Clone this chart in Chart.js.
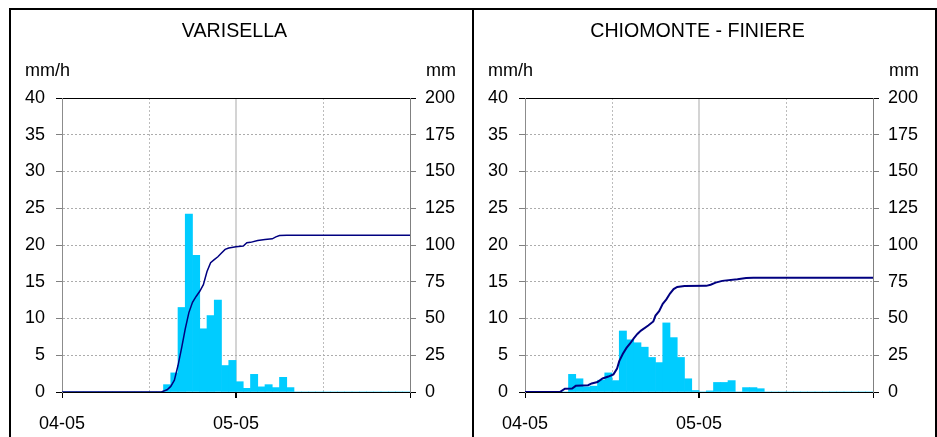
<!DOCTYPE html>
<html>
<head>
<meta charset="utf-8">
<script src="https://cdn.jsdelivr.net/npm/chart.js@4.4.1/dist/chart.umd.min.js"></script>
<style>
    body { margin: 0; background: #fff; }
    #frame {
        position: absolute; left: 9px; top: 8px;
        width: 924px; height: 440px;
        border: 2px solid #000; border-bottom: none;
    }
    .panel { position: absolute; top: 0; width: 461px; height: 427px; }
    #left-panel { left: 0; }
    #right-panel { left: 461px; border-left: 2px solid #000; }
    canvas { display: block; }
</style>
</head>
<body>
<div id="frame">
    <div class="panel" id="left-panel"><canvas id="varisella" width="461" height="427"></canvas></div>
    <div class="panel" id="right-panel"><canvas id="chiomonte" width="461" height="427"></canvas></div>
</div>
<script>
// hourly rain (mm/h), hour 0 = 04-05 00:00, 48 hours
const varisellaRain = [0, 0, 0, 0, 0, 0, 0, 0, 0, 0, 0, 0, 0, 0,
    1.0, 2.6, 11.5, 24.2, 18.6, 8.6, 10.4, 12.5, 3.6, 4.3,
    1.4, 0.5, 2.4, 0.7, 1.0, 0.6, 2.0, 0.6,
    0, 0, 0, 0, 0, 0, 0, 0, 0, 0, 0, 0, 0, 0, 0, 0];
const chiomonteRain = [0, 0, 0, 0, 0, 0,
    2.4, 1.8, 0.7, 0.8, 1.6, 2.6, 1.55, 8.3, 7.1, 6.7, 6.1, 4.7, 4.0, 9.4, 7.4, 4.7, 1.8, 0.2,
    0, 0.15, 1.3, 1.3, 1.55, 0, 0.6, 0.6, 0.45,
    0, 0, 0, 0, 0, 0, 0, 0, 0, 0, 0, 0, 0, 0, 0];

// cumulated rain (mm)
const varisellaCumHours = [0, 13.7, 14.5, 15, 15.5, 16, 16.5, 17, 17.5, 18, 18.5, 19, 19.5, 20, 20.5,
    21, 21.5, 22, 22.5, 23, 24, 25, 25.5, 26, 27, 28, 29, 29.5, 30, 31, 48];
const varisellaCumMm = [0, 0, 1.5, 3.8, 8, 18, 30, 43, 54, 61, 65, 68.5, 73, 82, 88,
    90, 92, 94.5, 97, 98, 98.8, 99.3, 101.5, 101.8, 103, 103.8, 104.2, 105.5, 106.4, 106.6, 106.6];
const chiomonteCumHours = [0, 4.8, 5.5, 6.5, 7, 8.7, 9.2, 10, 10.7, 11.5, 12.2, 12.7, 13, 13.5, 14,
    14.5, 15, 15.5, 16, 17, 17.7, 18, 18.5, 19, 19.5, 20, 20.5, 21, 22, 25, 25.6, 26.3, 27.2, 29.3,
    30.5, 31.5, 48];
const chiomonteCumMm = [0, 0, 2.2, 2.4, 4.2, 4.6, 5.8, 6.8, 9.2, 10.5, 12, 16, 21, 26, 30,
    33, 36.5, 39.5, 41.8, 45.2, 48, 52, 55, 60, 63, 67, 70, 71.5, 72.1, 72.2, 73, 74.4, 75.6, 76.7,
    77.5, 77.8, 77.8];

const xTickLabels = ['04-05', '', '05-05', '', ''];
const FONT = '"Liberation Sans", Arial, sans-serif';

Chart.defaults.font.family = FONT;
Chart.defaults.font.size = 18;
Chart.defaults.color = '#000';

// title and unit labels above the axes
const panelText = {
    id: 'panelText',
    afterDraw(chart, args, opts) {
        const ctx = chart.ctx;
        const area = chart.chartArea;
        ctx.save();
        ctx.fillStyle = '#000';
        ctx.textBaseline = 'alphabetic';
        ctx.font = '19.6px ' + FONT;
        ctx.textAlign = 'center';
        ctx.fillText(opts.title, (area.left + area.right) / 2 - 1.5, 26.7);
        ctx.font = '18px ' + FONT;
        ctx.textAlign = 'left';
        ctx.fillText('mm/h', 14, 66);
        ctx.textAlign = 'right';
        ctx.fillText('mm', 445, 66);
        ctx.restore();
    }
};

function isEdge(v, max) {
    return v === 0 || v === max;
}

function makePanel(canvasId, title, rain, cumHours, cumMm, lineWidth) {
    const barData = rain.map((v, i) => ({ x: i + 0.5, y: v }));
    const lineData = cumHours.map((h, i) => ({ x: h, y: cumMm[i] }));

    new Chart(document.getElementById(canvasId), {
        type: 'line',
        data: {
            datasets: [{
                type: 'bar',
                data: barData,
                yAxisID: 'y',
                backgroundColor: '#00CCFF',
                borderWidth: 0,
                barPercentage: 1.0,
                categoryPercentage: 1.0,
                order: 1
            }, {
                type: 'line',
                data: lineData,
                yAxisID: 'y2',
                borderColor: '#000080',
                borderWidth: lineWidth,
                pointRadius: 0,
                tension: 0,
                fill: false,
                order: 0
            }]
        },
        options: {
            responsive: false,
            animation: false,
            layout: { padding: { top: 88, left: 0, right: 0, bottom: 0 } },
            plugins: {
                legend: { display: false },
                tooltip: { enabled: false },
                panelText: { title: title }
            },
            scales: {
                x: {
                    type: 'linear',
                    min: 0,
                    max: 48,
                    offset: false,
                    afterFit: s => { s.height = 45; },
                    ticks: {
                        stepSize: 12,
                        autoSkip: false,
                        maxRotation: 0,
                        padding: 15,
                        callback: (v, i) => xTickLabels[i]
                    },
                    grid: {
                        offset: false,
                        tickLength: 6,
                        color: c => c.tick.value === 24 ? '#d4d4d4' : (isEdge(c.tick.value, 48) ? '#8c8c8c' : '#bcbcbc'),
                        lineWidth: c => c.tick.value === 24 ? 2 : 1,
                        tickColor: c => (c.tick.value % 24 === 0) ? '#000' : 'rgba(0,0,0,0)'
                    },
                    border: {
                        color: '#000',
                        width: 1,
                        dash: c => (c.tick && (c.tick.value === 12 || c.tick.value === 36)) ? [2, 2] : []
                    }
                },
                y: {
                    position: 'left',
                    min: 0,
                    max: 40,
                    afterFit: s => { s.width = 51; },
                    ticks: { stepSize: 5, padding: 11 },
                    grid: {
                        tickLength: 6,
                        color: c => isEdge(c.tick.value, 40) ? '#000' : '#acacac',
                        tickColor: c => isEdge(c.tick.value, 40) ? '#000' : '#808080'
                    },
                    border: {
                        color: '#8c8c8c',
                        width: 1,
                        dash: c => (c.tick && !isEdge(c.tick.value, 40)) ? [2, 2] : []
                    }
                },
                y2: {
                    position: 'right',
                    min: 0,
                    max: 200,
                    afterFit: s => { s.width = 62; },
                    ticks: { stepSize: 25, padding: 9 },
                    grid: {
                        drawOnChartArea: false,
                        tickLength: 6,
                        tickColor: c => isEdge(c.tick.value, 200) ? '#000' : '#808080'
                    },
                    border: { color: '#808080', width: 1 }
                }
            }
        },
        plugins: [panelText]
    });
}

makePanel('varisella', 'VARISELLA', varisellaRain, varisellaCumHours, varisellaCumMm, 1.5);
makePanel('chiomonte', 'CHIOMONTE - FINIERE', chiomonteRain, chiomonteCumHours, chiomonteCumMm, 2);
</script>
</body>
</html>
